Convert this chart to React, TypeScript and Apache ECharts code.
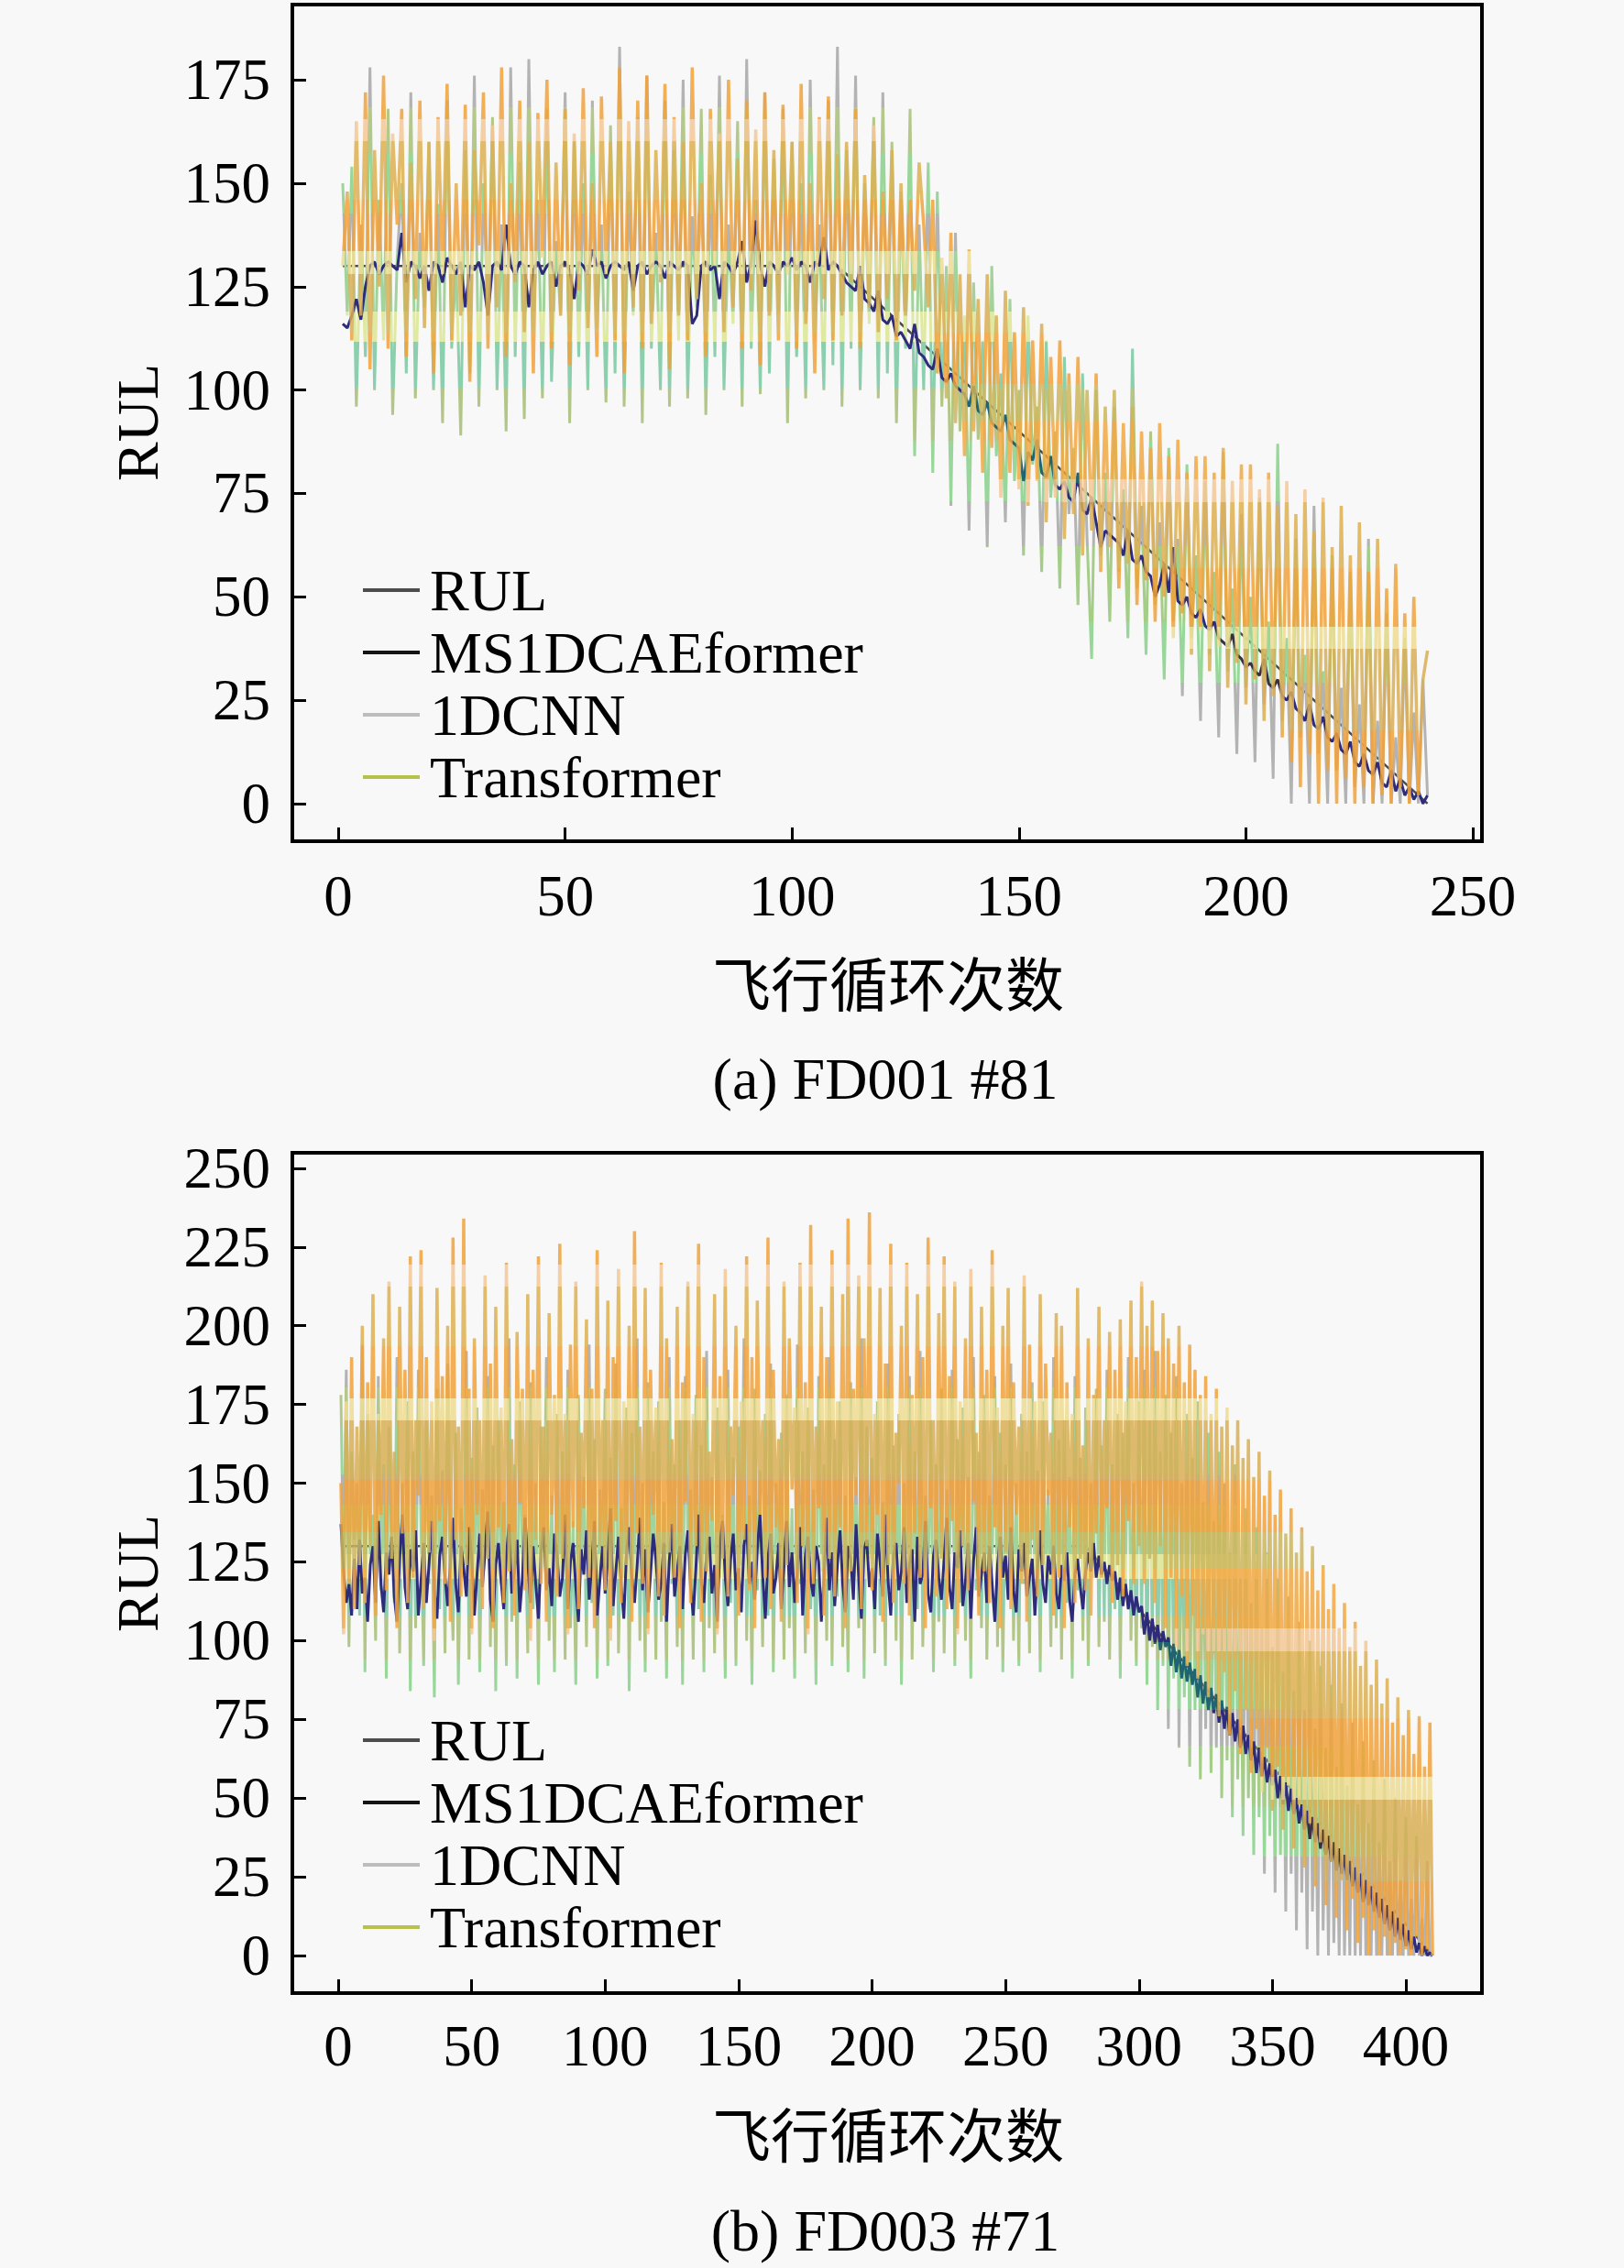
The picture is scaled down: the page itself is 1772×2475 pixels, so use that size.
import { useEffect, useRef } from 'react';
import * as echarts from 'echarts';

const FONT = "'Liberation Serif', 'Times New Roman', 'Noto Sans CJK SC', serif";

const SERIES_NAMES = ['RUL', 'MS1DCAEformer', '1DCNN', 'Transformer'];
const LEGEND_COLORS = ['#4d4d4d', '#141414', '#bdbdbd', '#b7c24c'];

const TICKS_A_X = [0, 50, 100, 150, 200, 250];
const TICKS_A_Y = [0, 25, 50, 75, 100, 125, 150, 175];
const TICKS_B_X = [0, 50, 100, 150, 200, 250, 300, 350, 400];
const TICKS_B_Y = [0, 25, 50, 75, 100, 125, 150, 175, 200, 225, 250];

// (a) FD001 #81 -- true RUL breakpoints [cycle, RUL]
const RUL_A = [[1, 130], [110, 130], [240, 0]];

const MS_A = [
  116, 115, 118, 122, 117, 125, 130, 131, 128, 130,
  131, 130, 129, 138, 126, 131, 130, 127, 130, 124,
  131, 130, 126, 132, 130, 128, 131, 120, 130, 129,
  131, 126, 118, 130, 131, 129, 140, 130, 128, 131,
  130, 120, 129, 131, 128, 130, 131, 125, 130, 131,
  129, 122, 131, 130, 128, 134, 130, 131, 127, 130,
  131, 130, 129, 131, 124, 130, 131, 128, 130, 131,
  130, 127, 131, 130, 129, 131, 130, 116, 118, 130,
  131, 129, 130, 122, 131, 130, 128, 131, 136, 126,
  131, 141, 130, 125, 131, 130, 128, 131, 130, 132,
  129, 131, 130, 126, 131, 130, 137, 129, 131, 130,
  128, 126, 125, 124, 130, 122, 121, 119, 124, 117,
  116, 118, 113, 114, 112, 110, 116, 109, 108, 106,
  105, 110, 103, 102, 104, 101, 100, 99, 96, 101,
  95, 94, 97, 92, 91, 90, 94, 88, 87, 86,
  78, 85, 83, 88, 80, 79, 84, 77, 76, 78,
  74, 73, 80, 71, 70, 74, 68, 62, 66, 65,
  64, 63, 60, 66, 59, 58, 60, 56, 55, 50,
  53, 58, 51, 62, 49, 48, 50, 46, 45, 47,
  43, 42, 44, 40, 39, 38, 41, 36, 35, 33,
  34, 32, 31, 35, 29, 28, 30, 26, 25, 27,
  23, 22, 20, 24, 19, 18, 21, 16, 15, 17,
  13, 12, 15, 10, 9, 12, 8, 7, 10, 5,
  4, 8, 3, 6, 2, 4, 1, 3, 0, 2,
];

const CNN_A = [
  150, 118, 154, 96, 140, 108, 178, 100, 146, 112,
  168, 94, 132, 150, 104, 172, 98, 138, 120, 160,
  100, 145, 92, 170, 110, 130, 89, 158, 104, 176,
  96, 150, 118, 166, 100, 140, 90, 178, 108, 155,
  93, 180, 114, 146, 98, 168, 102, 136, 118, 172,
  92, 160, 108, 150, 100, 170, 115, 140, 97, 164,
  104, 183, 96, 148, 118, 166, 92, 176, 110, 138,
  100, 170, 96, 158, 112, 175, 98, 142, 120, 168,
  94, 152, 108, 176, 100, 140, 116, 165, 96, 180,
  110, 146, 99, 172, 104, 156, 118, 168, 92, 160,
  108, 150, 98, 175, 112, 140, 100, 170, 106, 183,
  96, 158, 110, 176, 100, 150, 116, 166, 98, 172,
  104, 160, 92, 148, 110, 168, 84, 140, 100, 155,
  80, 148, 96, 130, 72, 138, 90, 118, 66, 126,
  88, 112, 62, 130, 84, 104, 68, 122, 78, 100,
  60, 118, 82, 96, 56, 112, 74, 90, 52, 108,
  70, 86, 48, 104, 64, 35, 100, 60, 80, 44,
  96, 56, 76, 40, 110, 52, 72, 36, 90, 48,
  68, 30, 86, 44, 64, 26, 82, 40, 60, 20,
  78, 36, 56, 16, 85, 32, 52, 12, 70, 28,
  50, 10, 74, 24, 44, 6, 87, 20, 40, 0,
  64, 16, 36, 0, 72, 12, 32, 0, 60, 8,
  28, 0, 56, 4, 24, 0, 64, 0, 20, 0,
  46, 0, 16, 0, 40, 0, 22, 0, 30, 2,
];

const TRF_A = [
  130, 148, 112, 165, 118, 172, 105, 158, 125, 176,
  110, 162, 140, 168, 108, 155, 122, 170, 115, 160,
  104, 166, 128, 174, 112, 150, 118, 169, 102, 158,
  135, 172, 110, 164, 120, 178, 108, 150, 126, 170,
  114, 160, 104, 167, 132, 175, 110, 155, 118, 168,
  106, 162, 124, 173, 115, 150, 108, 171, 128, 160,
  112, 178, 104, 165, 120, 170, 110, 176, 116, 158,
  126, 174, 105, 166, 118, 160, 112, 178, 122, 150,
  108, 168, 130, 162, 114, 175, 120, 156, 110, 170,
  124, 163, 106, 172, 118, 158, 112, 169, 128, 160,
  110, 174, 116, 150, 104, 166, 122, 171, 112, 157,
  118, 160, 126, 168, 110, 152, 120, 164, 114, 148,
  122, 158, 112, 150, 118, 146, 124, 155, 140, 120,
  146, 104, 132, 98, 138, 92, 128, 84, 134, 90,
  122, 80, 128, 86, 118, 74, 124, 80, 114, 76,
  120, 72, 112, 78, 116, 68, 108, 74, 112, 64,
  104, 70, 108, 60, 100, 66, 104, 56, 96, 62,
  100, 52, 92, 58, 96, 48, 90, 54, 86, 44,
  92, 50, 84, 40, 88, 46, 80, 36, 84, 42,
  84, 32, 80, 38, 86, 28, 78, 34, 82, 24,
  82, 30, 76, 20, 80, 26, 72, 16, 78, 10,
  70, 4, 76, 12, 66, 0, 74, 8, 62, 0,
  72, 6, 60, 0, 68, 4, 56, 0, 64, 2,
  52, 0, 58, 4, 46, 0, 50, 2, 30, 37,
];

// (b) FD003 #71
const RUL_B = [[1, 130], [280, 130], [410, 0]];

const MS_B = [
  137, 122, 112, 118, 108, 126, 110, 132, 115, 120,
  106, 124, 130, 112, 138, 118, 109, 128, 121, 133,
  114, 106, 126, 140, 117, 110, 129, 122, 135, 108,
  119, 131, 112, 124, 138, 116, 107, 127, 133, 120,
  111, 125, 139, 118, 109, 130, 123, 114, 136, 126,
  108, 121, 134, 117, 128, 141, 113, 106, 124, 131,
  119, 110, 127, 137, 115, 122, 132, 109, 120, 139,
  125, 112, 130, 118, 107, 128, 136, 116, 123, 111,
  134, 127, 114, 120, 140, 110, 125, 131, 117, 106,
  129, 121, 135, 113, 124, 138, 108, 119, 130, 115,
  126, 142, 111, 122, 133, 118, 107, 128, 136, 120,
  112, 124, 139, 116, 129, 109, 121, 134, 126, 113,
  118, 131, 106, 125, 137, 114, 122, 130, 110, 127,
  135, 117, 108, 123, 140, 119, 112, 128, 133, 115,
  124, 106, 131, 138, 120, 111, 126, 134, 116, 123,
  109, 130, 137, 118, 125, 113, 129, 140, 121, 107,
  126, 134, 115, 120, 131, 110, 124, 138, 117, 128,
  112, 122, 136, 108, 127, 133, 119, 114, 130, 125,
  106, 121, 139, 116, 128, 111, 124, 135, 118, 109,
  130, 126, 113, 137, 120, 107, 129, 132, 117, 123,
  110, 134, 125, 114, 140, 119, 108, 127, 131, 116,
  122, 136, 112, 124, 129, 106, 133, 118, 121, 138,
  115, 109, 127, 132, 120, 113, 126, 139, 117, 110,
  128, 123, 135, 111, 119, 131, 107, 125, 136, 114,
  121, 128, 112, 130, 118, 106, 124, 133, 120, 127,
  113, 136, 116, 109, 129, 122, 131, 114, 120, 126,
  108, 123, 135, 118, 112, 127, 121, 130, 115, 110,
  124, 119, 128, 113, 106, 121, 126, 117, 110, 122,
  128, 122, 131, 120, 127, 121, 125, 118, 124, 119,
  122, 113, 120, 111, 118, 110, 116, 108, 114, 109,
  111, 102, 109, 100, 107, 99, 105, 97, 103, 98,
  101, 92, 99, 90, 97, 88, 95, 87, 93, 86,
  91, 82, 89, 80, 87, 78, 85, 77, 83, 74,
  81, 72, 79, 70, 77, 68, 75, 66, 73, 64,
  70, 62, 68, 58, 66, 57, 63, 55, 61, 54,
  59, 50, 57, 48, 55, 46, 53, 45, 50, 42,
  48, 40, 46, 37, 44, 36, 42, 34, 40, 32,
  38, 30, 36, 27, 34, 26, 32, 24, 30, 22,
  28, 20, 26, 17, 24, 16, 22, 14, 20, 12,
  18, 10, 16, 8, 14, 6, 12, 5, 10, 3,
  8, 2, 6, 1, 4, 0, 3, 0, 1, 0,
];

const CNN_B = [
  178, 120, 186, 98, 160, 132, 150, 108, 194, 90,
  172, 124, 140, 100, 184, 116, 156, 88, 168, 130,
  112, 190, 96, 150, 122, 176, 84, 160, 104, 186,
  136, 92, 170, 118, 146, 82, 180, 110, 154, 96,
  188, 126, 100, 166, 86, 142, 120, 192, 94, 158,
  112, 174, 90, 148, 130, 184, 98, 162, 84, 170,
  118, 144, 92, 196, 106, 156, 88, 176, 124, 140,
  96, 182, 110, 150, 86, 168, 128, 190, 100, 146,
  90, 172, 116, 160, 94, 186, 104, 138, 86, 178,
  122, 152, 98, 194, 112, 164, 88, 148, 126, 180,
  92, 158, 108, 188, 96, 142, 120, 174, 84, 166,
  114, 196, 100, 150, 90, 182, 124, 160, 94, 176,
  106, 144, 88, 190, 118, 156, 98, 170, 86, 184,
  128, 148, 94, 178, 110, 162, 90, 192, 104, 152,
  96, 174, 120, 140, 88, 186, 112, 158, 92, 168,
  124, 196, 100, 146, 86, 180, 116, 154, 98, 172,
  108, 188, 90, 150, 126, 166, 94, 178, 104, 142,
  88, 194, 118, 160, 96, 174, 110, 148, 86, 184,
  122, 156, 100, 190, 92, 164, 114, 176, 98, 146,
  90, 182, 120, 152, 104, 196, 88, 168, 126, 158,
  96, 176, 108, 144, 92, 188, 116, 162, 100, 172,
  86, 150, 124, 184, 94, 160, 110, 192, 98, 146,
  118, 170, 90, 156, 106, 180, 96, 148, 120, 186,
  92, 164, 112, 174, 100, 152, 88, 190, 116, 160,
  104, 178, 94, 146, 122, 184, 98, 166, 90, 156,
  114, 188, 100, 150, 92, 172, 118, 160, 96, 182,
  108, 154, 90, 176, 120, 148, 98, 190, 104, 164,
  94, 170, 112, 152, 88, 184, 116, 158, 100, 174,
  92, 150, 120, 180, 98, 162, 106, 186, 94, 156,
  110, 172, 88, 166, 118, 190, 100, 150, 92, 176,
  104, 186, 86, 170, 98, 192, 78, 160, 92, 178,
  72, 166, 88, 184, 66, 150, 82, 172, 60, 158,
  78, 176, 56, 144, 72, 166, 58, 138, 66, 160,
  50, 150, 62, 128, 44, 156, 56, 120, 38, 142,
  50, 112, 32, 136, 44, 104, 26, 128, 38, 98,
  20, 120, 32, 90, 14, 114, 26, 84, 8, 106,
  20, 78, 2, 100, 14, 72, 0, 92, 8, 66,
  0, 86, 4, 60, 0, 80, 0, 54, 0, 74,
  0, 48, 0, 68, 0, 42, 0, 62, 0, 36,
  0, 56, 0, 30, 0, 50, 0, 24, 0, 44,
  0, 18, 0, 38, 0, 12, 0, 30, 0, 0,
];

const TRF_B = [
  150, 102, 176, 118, 190, 110, 168, 124, 200, 112,
  182, 130, 210, 108, 172, 140, 196, 116, 214, 126,
  160, 104, 206, 134, 186, 112, 222, 120, 170, 146,
  224, 110, 190, 128, 176, 100, 212, 138, 184, 118,
  200, 106, 228, 132, 168, 114, 234, 124, 180, 102,
  196, 140, 170, 110, 216, 126, 188, 104, 206, 136,
  174, 112, 220, 122, 164, 108, 198, 144, 180, 116,
  210, 100, 186, 132, 222, 118, 168, 106, 204, 140,
  178, 114, 226, 126, 172, 102, 194, 136, 214, 110,
  166, 142, 202, 120, 180, 104, 224, 130, 170, 116,
  208, 100, 190, 138, 218, 112, 176, 124, 200, 106,
  230, 134, 168, 118, 212, 102, 186, 140, 174, 114,
  220, 108, 196, 128, 164, 120, 206, 104, 182, 144,
  214, 112, 172, 130, 226, 106, 190, 122, 160, 138,
  210, 102, 184, 126, 218, 114, 168, 146, 200, 108,
  176, 132, 222, 116, 190, 104, 208, 140, 170, 120,
  228, 110, 186, 136, 164, 106, 214, 124, 196, 148,
  174, 112, 220, 130, 182, 102, 232, 118, 168, 142,
  206, 108, 190, 126, 224, 114, 176, 136, 210, 104,
  234, 122, 180, 146, 216, 110, 196, 130, 236, 116,
  172, 140, 212, 106, 188, 124, 226, 112, 166, 150,
  200, 118, 220, 108, 178, 134, 210, 120, 190, 104,
  228, 142, 170, 114, 204, 126, 222, 110, 184, 138,
  214, 102, 176, 130, 196, 116, 218, 144, 166, 108,
  206, 122, 186, 112, 224, 136, 174, 104, 200, 128,
  212, 110, 182, 140, 168, 118, 216, 106, 194, 132,
  176, 114, 210, 124, 188, 146, 166, 108, 204, 120,
  200, 104, 182, 136, 172, 112, 212, 126, 162, 116,
  196, 108, 178, 134, 206, 120, 170, 142, 198, 112,
  186, 124, 202, 114, 176, 138, 208, 118, 190, 130,
  214, 118, 200, 126, 208, 112, 192, 130, 204, 104,
  196, 120, 188, 98, 200, 114, 182, 92, 194, 108,
  186, 88, 178, 102, 184, 82, 172, 96, 180, 76,
  168, 90, 174, 70, 162, 84, 170, 64, 158, 78,
  164, 58, 152, 72, 160, 52, 146, 66, 154, 46,
  140, 60, 148, 40, 134, 54, 142, 34, 128, 48,
  136, 28, 122, 42, 130, 22, 116, 36, 124, 16,
  110, 30, 118, 12, 104, 24, 112, 8, 98, 18,
  106, 4, 92, 12, 100, 0, 86, 8, 94, 0,
  80, 6, 88, 0, 74, 4, 82, 0, 70, 2,
  78, 0, 64, 6, 76, 0, 60, 2, 74, 0,
];

// colour bands of the plotted lines (top -> bottom of each line's extent)
const TRF_BANDS: [number, number, string][] = [
  [0, 0.07, '#f0a23a'], [0.07, 0.1, '#f4c796'], [0.1, 0.18, '#ddb052'],
  [0.18, 0.25, '#f0a23a'], [0.25, 0.28, '#eedc92'], [0.28, 0.36, '#d9ae56'],
  [0.36, 0.43, '#f0a23a'], [0.43, 0.48, '#cdb65c'], [0.48, 0.56, '#f2a843'],
  [0.56, 0.59, '#f4c796'], [0.59, 0.68, '#ddb052'], [0.68, 0.76, '#f0a23a'],
  [0.76, 0.79, '#eedc92'], [0.79, 0.9, '#d9ae56'], [0.9, 1, '#f0a23a'],
];
const CNN_BANDS: [number, number, string][] = [
  [0, 0.08, '#b3b3b3'], [0.08, 0.14, '#b5c88c'], [0.14, 0.22, '#98d69a'],
  [0.22, 0.27, '#b3b3b3'], [0.27, 0.35, '#a2d39c'], [0.35, 0.39, '#dfe9a2'],
  [0.39, 0.45, '#8ccfae'], [0.45, 0.52, '#b2c688'], [0.52, 0.6, '#98d69a'],
  [0.6, 0.66, '#b3b3b3'], [0.66, 0.76, '#a4cd88'], [0.76, 0.84, '#98d69a'],
  [0.84, 1, '#b3b3b3'],
];
const MS_BANDS: [number, number, string][] = [
  [0, 0.3, '#2e2c7a'], [0.3, 0.45, '#1f6470'], [0.45, 0.7, '#2e2c7a'],
  [0.7, 0.8, '#3a3040'], [0.8, 1, '#2e2c7a'],
];

function banded(bands: [number, number, string][]) {
  const stops: { offset: number; color: string }[] = [];
  bands.forEach(([a, b, c]) => {
    stops.push({ offset: a, color: c });
    stops.push({ offset: b, color: c });
  });
  return new echarts.graphic.LinearGradient(0, 0, 0, 1, stops);
}

const toXY = (vals: number[]) => vals.map((v, i) => [i + 1, v]);

export default function App() {
  const ref = useRef<HTMLDivElement>(null);

  useEffect(() => {
    if (!ref.current) return;
    const chart = echarts.init(ref.current, undefined, { renderer: 'svg' });

    const labelStyle = { fontFamily: FONT, fontSize: 63, color: '#000' };

    const tick = (ticks: number[]) => ({
      inside: true,
      length: 15,
      lineStyle: { color: '#000', width: 3 },
      customValues: ticks,
    });

    const xAxis = (gridIndex: number, min: number, max: number, ticks: number[], margin: number) => ({
      type: 'value',
      gridIndex,
      min,
      max,
      axisLine: { show: false, onZero: false },
      splitLine: { show: false },
      axisTick: tick(ticks),
      axisLabel: { ...labelStyle, margin, customValues: ticks },
    });

    const yAxis = (gridIndex: number, min: number, max: number, ticks: number[]) => ({
      type: 'value',
      gridIndex,
      min,
      max,
      axisLine: { show: false, onZero: false },
      splitLine: { show: false },
      axisTick: tick(ticks),
      axisLabel: { ...labelStyle, margin: 24, customValues: ticks },
    });

    // drawing order: RUL, 1DCNN, MS1DCAEformer, Transformer (top)
    const makeSeries = (idx: number, rul: number[][], ms: number[], cnn: number[], trf: number[]) => [
      {
        name: 'RUL',
        type: 'line',
        xAxisIndex: idx,
        yAxisIndex: idx,
        data: rul,
        showSymbol: false,
        itemStyle: { color: LEGEND_COLORS[0] },
        lineStyle: { color: '#4a4a4a', width: 2.5 },
      },
      {
        name: '1DCNN',
        type: 'line',
        xAxisIndex: idx,
        yAxisIndex: idx,
        data: toXY(cnn),
        showSymbol: false,
        itemStyle: { color: LEGEND_COLORS[2] },
        lineStyle: { color: banded(CNN_BANDS), width: 3 },
      },
      {
        name: 'MS1DCAEformer',
        type: 'line',
        xAxisIndex: idx,
        yAxisIndex: idx,
        data: toXY(ms),
        showSymbol: false,
        itemStyle: { color: LEGEND_COLORS[1] },
        lineStyle: { color: banded(MS_BANDS), width: 3 },
      },
      {
        name: 'Transformer',
        type: 'line',
        xAxisIndex: idx,
        yAxisIndex: idx,
        data: toXY(trf),
        showSymbol: false,
        itemStyle: { color: LEGEND_COLORS[3] },
        lineStyle: { color: banded(TRF_BANDS), width: 3.5, opacity: 0.85 },
      },
    ];

    const legendData = SERIES_NAMES.map((name, i) => ({
      name,
      itemStyle: { color: LEGEND_COLORS[i] },
    }));

    const legend = (top: number) => ({
      orient: 'vertical',
      left: 391,
      top,
      icon: 'rect',
      itemWidth: 62,
      itemHeight: 4,
      itemGap: 4,
      selectedMode: false,
      data: legendData,
      textStyle: {
        fontFamily: FONT,
        fontSize: 64,
        lineHeight: 64,
        color: '#000',
        padding: [0, 0, 0, 6],
      },
    });

    const text = (x: number, y: number, t: string, rotation = 0) => ({
      type: 'text',
      x,
      y,
      rotation,
      style: {
        text: t,
        fontFamily: FONT,
        fontSize: 64,
        fill: '#000',
        textAlign: 'center',
        textVerticalAlign: 'middle',
      },
    });

    chart.setOption({
      animation: false,
      backgroundColor: '#f8f8f8',
      grid: [
        { left: 319, top: 5, width: 1298, height: 913, show: true, borderColor: '#000', borderWidth: 4, z: 10 },
        { left: 319, top: 1258, width: 1298, height: 917, show: true, borderColor: '#000', borderWidth: 4, z: 10 },
      ],
      xAxis: [
        xAxis(0, -10.1, 252, TICKS_A_X, 28),
        xAxis(1, -17.2, 428.5, TICKS_B_X, 26),
      ],
      yAxis: [
        yAxis(0, -9.1, 193.2, TICKS_A_Y),
        yAxis(1, -11.9, 254.9, TICKS_B_Y),
      ],
      legend: [legend(607), legend(1862)],
      series: [
        ...makeSeries(0, RUL_A, MS_A, CNN_A, TRF_A),
        ...makeSeries(1, RUL_B, MS_B, CNN_B, TRF_B),
      ],
      graphic: [
        text(150, 461, 'RUL', Math.PI / 2),
        text(969, 1076, '飞行循环次数'),
        text(966, 1177, '(a) FD001 #81'),
        text(150, 1717, 'RUL', Math.PI / 2),
        text(969, 2332, '飞行循环次数'),
        text(966, 2434, '(b) FD003 #71'),
      ],
    });

    return () => {
      chart.dispose();
    };
  }, []);

  return (
    <div
      ref={ref}
      style={{ position: 'absolute', left: 0, top: 0, width: 1772, height: 2475 }}
    />
  );
}
